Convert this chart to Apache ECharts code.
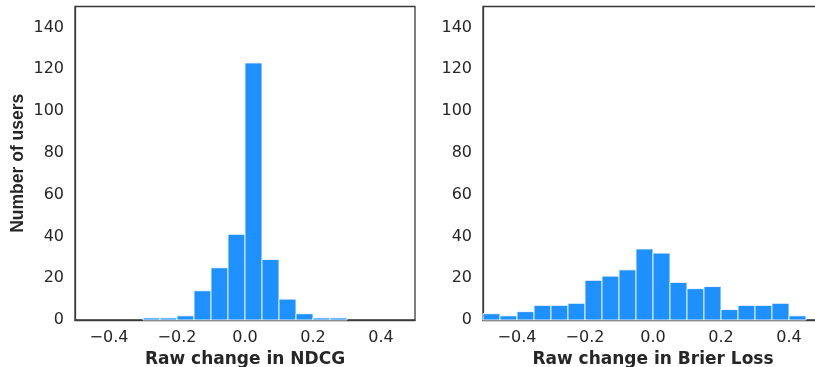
<!DOCTYPE html>
<html>
<head>
<meta charset="utf-8">
<script src="https://cdn.jsdelivr.net/npm/echarts@6/dist/echarts.min.js"></script>
<style>
html,body{margin:0;padding:0;background:#fff;}
#chart{width:815px;height:367px;}
</style>
</head>
<body>
<div id="chart"></div>
<script>
// Histogram bin edges (shared by both panels)
const binEdges = [-0.5,-0.45,-0.4,-0.35,-0.3,-0.25,-0.2,-0.15,-0.1,-0.05,0.0,0.05,0.1,0.15,0.2,0.25,0.3,0.35,0.4,0.45];
// Counts per bin
const ndcgCounts  = [0,0,0,0,1,1,2,14,25,41,123,29,10,3,1,1,0,0,0];
const brierCounts = [3,2,4,7,7,8,19,21,24,34,32,18,15,16,5,7,7,8,2];
// Tick labels
const xTickValues = [-0.4,-0.2,0.0,0.2,0.4];
const yTickValues = [0,20,40,60,80,100,120,140];
const xTitles = ['Raw change in NDCG','Raw change in Brier Loss'];
const yTitle = 'Number of users';

function toBins(counts){
  const out = [];
  for (let i = 0; i < counts.length; i++) {
    if (counts[i] > 0) out.push([binEdges[i], binEdges[i+1], counts[i]]);
  }
  return out;
}
function fmtX(v){
  const s = Math.abs(v).toFixed(1);
  return v < -1e-9 ? '\u2212' + s : s;
}
const textColor = '#262626';
const frameColor = '#3a3a3a';

function renderBar(params, api){
  const x0 = api.value(0), x1 = api.value(1), c = api.value(2);
  const pTop = api.coord([x0, c]);
  const pBot = api.coord([x1, 0]);
  return {
    type: 'rect',
    shape: {x: pTop[0], y: pTop[1], width: pBot[0]-pTop[0], height: pBot[1]-pTop[1]},
    style: {fill: '#1e90ff', stroke: 'rgba(255,255,255,0.85)', lineWidth: 1}
  };
}

function xAxisCfg(idx){
  return {
    type: 'value', gridIndex: idx, min: -0.5, max: 0.5,
    name: xTitles[idx], nameLocation: 'middle', nameGap: 30,
    nameTextStyle: {fontFamily: 'DejaVu Sans', fontWeight: 'bold', fontSize: 17, color: textColor},
    axisLine: {show: true, onZero: false, lineStyle: {color: frameColor, width: 1.3}},
    axisTick: {show: false},
    splitLine: {show: false},
    axisLabel: {customValues: xTickValues, formatter: fmtX, margin: 10,
      fontFamily: 'DejaVu Sans', fontSize: 16, color: textColor}
  };
}
function yAxisCfg(idx){
  return {
    type: 'value', gridIndex: idx, min: 0, max: 150,
    name: idx === 0 ? yTitle : '', nameLocation: 'middle', nameGap: 48,
    nameTextStyle: {fontFamily: 'Liberation Sans', fontWeight: 'bold', fontSize: 17.5, color: textColor},
    axisLine: {show: true, onZero: false, lineStyle: {color: frameColor, width: 1.3}},
    axisTick: {show: false},
    splitLine: {show: false},
    axisLabel: {customValues: yTickValues, margin: 11,
      fontFamily: 'DejaVu Sans', fontSize: 16, color: textColor}
  };
}

const chart = echarts.init(document.getElementById('chart'), null, {renderer: 'canvas'});
chart.setOption({
  animation: false,
  backgroundColor: '#fff',
  grid: [
    {left: 75, top: 6.5, width: 340, height: 313.5, containLabel: false, outerBoundsMode: 'none', show: true, borderColor: frameColor, borderWidth: 1.3, backgroundColor: 'transparent'},
    {left: 483, top: 6.5, width: 340, height: 313.5, containLabel: false, outerBoundsMode: 'none', show: true, borderColor: frameColor, borderWidth: 1.3, backgroundColor: 'transparent'}
  ],
  xAxis: [xAxisCfg(0), xAxisCfg(1)],
  yAxis: [yAxisCfg(0), yAxisCfg(1)],
  series: [
    {type: 'custom', xAxisIndex: 0, yAxisIndex: 0, renderItem: renderBar, encode: {x: [0,1], y: 2}, data: toBins(ndcgCounts)},
    {type: 'custom', xAxisIndex: 1, yAxisIndex: 1, renderItem: renderBar, encode: {x: [0,1], y: 2}, data: toBins(brierCounts)}
  ]
});
</script>
</body>
</html>
